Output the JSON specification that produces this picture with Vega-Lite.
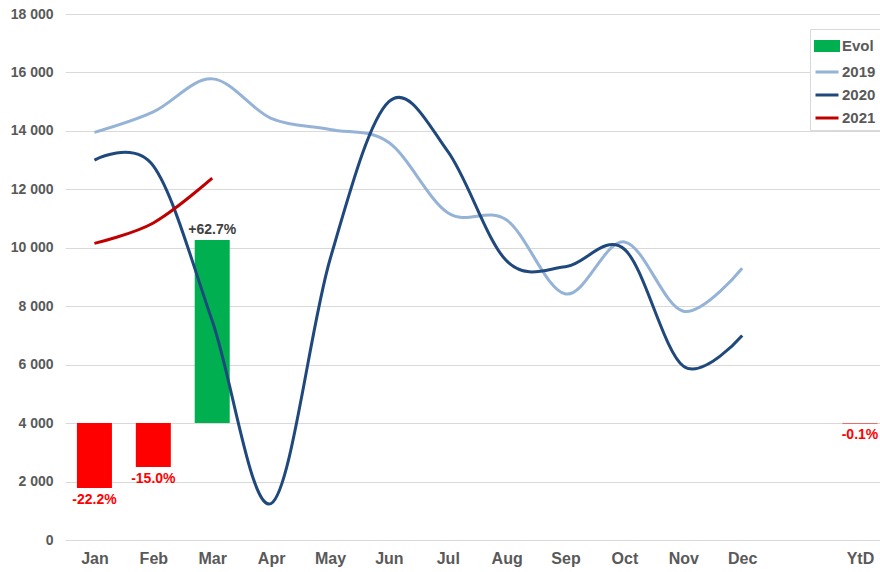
{
  "$schema": "https://vega.github.io/schema/vega-lite/v6.json",
  "width": 815,
  "height": 526,
  "autosize": {"type": "none"},
  "padding": {"left": 65, "top": 14, "right": 0, "bottom": 32},
  "background": "white",
  "config": {"view": {"stroke": null}, "font": "Liberation Sans"},
  "datasets": {
    "lines": [
      {"m": 1, "month": "Jan", "series": "2019", "value": 13950},
      {"m": 2, "month": "Feb", "series": "2019", "value": 14650},
      {"m": 3, "month": "Mar", "series": "2019", "value": 15780},
      {"m": 4, "month": "Apr", "series": "2019", "value": 14430},
      {"m": 5, "month": "May", "series": "2019", "value": 14050},
      {"m": 6, "month": "Jun", "series": "2019", "value": 13600},
      {"m": 7, "month": "Jul", "series": "2019", "value": 11200},
      {"m": 8, "month": "Aug", "series": "2019", "value": 10950},
      {"m": 9, "month": "Sep", "series": "2019", "value": 8420},
      {"m": 10, "month": "Oct", "series": "2019", "value": 10200},
      {"m": 11, "month": "Nov", "series": "2019", "value": 7830},
      {"m": 12, "month": "Dec", "series": "2019", "value": 9300},
      {"m": 1, "month": "Jan", "series": "2020", "value": 13000},
      {"m": 2, "month": "Feb", "series": "2020", "value": 12800},
      {"m": 3, "month": "Mar", "series": "2020", "value": 7500},
      {"m": 4, "month": "Apr", "series": "2020", "value": 1250},
      {"m": 5, "month": "May", "series": "2020", "value": 9600},
      {"m": 6, "month": "Jun", "series": "2020", "value": 15000},
      {"m": 7, "month": "Jul", "series": "2020", "value": 13300},
      {"m": 8, "month": "Aug", "series": "2020", "value": 9550},
      {"m": 9, "month": "Sep", "series": "2020", "value": 9350},
      {"m": 10, "month": "Oct", "series": "2020", "value": 9950},
      {"m": 11, "month": "Nov", "series": "2020", "value": 5950},
      {"m": 12, "month": "Dec", "series": "2020", "value": 7000},
      {"m": 1, "month": "Jan", "series": "2021", "value": 10150},
      {"m": 2, "month": "Feb", "series": "2021", "value": 10850},
      {"m": 3, "month": "Mar", "series": "2021", "value": 12380}
    ],
    "evol": [
      {"m": 1, "month": "Jan", "series": "Evol", "pct": -0.222, "end": 1780, "label": "-22.2%"},
      {"m": 2, "month": "Feb", "series": "Evol", "pct": -0.15, "end": 2500, "label": "-15.0%"},
      {"m": 3, "month": "Mar", "series": "Evol", "pct": 0.627, "end": 10270, "label": "+62.7%"},
      {"m": 14, "month": "YtD", "series": "Evol", "pct": -0.001, "end": 3990, "label": "-0.1%"}
    ]
  },
  "encoding": {
    "x": {
      "field": "m",
      "type": "quantitative",
      "scale": {"domain": [0.5, 14.34], "nice": false, "zero": false, "padding": 0},
      "axis": {
        "title": null,
        "values": [1, 2, 3, 4, 5, 6, 7, 8, 9, 10, 11, 12, 14],
        "labelExpr": "['','Jan','Feb','Mar','Apr','May','Jun','Jul','Aug','Sep','Oct','Nov','Dec','','YtD'][datum.value]",
        "grid": false,
        "domain": false,
        "ticks": false,
        "labelFont": "Liberation Sans",
        "labelFontSize": 16,
        "labelFontWeight": "bold",
        "labelColor": "#595959",
        "labelPadding": 10,
        "labelFlush": false,
        "labelOverlap": false
      }
    }
  },
  "layer": [
    {
      "data": {"name": "evol"},
      "mark": {"type": "bar", "width": 35},
      "encoding": {
        "y": {
          "field": "end",
          "type": "quantitative",
          "scale": {"domain": [0, 18000], "nice": false, "zero": true},
          "axis": {
            "title": null,
            "values": [0, 2000, 4000, 6000, 8000, 10000, 12000, 14000, 16000, 18000],
            "labelExpr": "replace(format(datum.value, ','), ',', ' ')",
            "grid": true,
            "gridColor": "#D9D9D9",
            "gridWidth": 1,
            "domain": false,
            "ticks": false,
            "labelFont": "Liberation Sans",
            "labelFontSize": 14,
            "labelFontWeight": "bold",
            "labelColor": "#595959",
            "labelPadding": 12
          }
        },
        "y2": {"datum": 4000},
        "color": {
          "condition": {"test": "datum.pct < 0", "value": "#FF0000"},
          "field": "series",
          "type": "nominal",
          "scale": {"domain": ["Evol", "2019", "2020", "2021"], "range": ["#00B050", "#95B3D7", "#1F497D", "#C00000"]},
          "legend": {
            "title": null,
            "orient": "none",
            "legendX": 745,
            "legendY": 15,
            "padding": 4,
            "rowPadding": 2,
            "symbolSize": 529,
            "symbolStrokeWidth": 3,
            "labelOffset": 2,
            "labelFont": "Liberation Sans",
            "labelFontSize": 15,
            "labelFontWeight": "bold",
            "labelColor": "#595959",
            "labelLimit": 200,
            "strokeColor": "#D9D9D9",
            "fillColor": "white",
            "encode": {
              "symbols": {
                "update": {
                  "shape": {"signal": "datum.value === 'Evol' ? 'M-1,-0.4H1V0.4H-1Z' : 'M-1,0H1'"},
                  "fill": {"signal": "datum.value === 'Evol' ? '#00B050' : 'transparent'"},
                  "stroke": {"signal": "datum.value === 'Evol' ? 'transparent' : scale('color', datum.value)"},
                  "strokeWidth": {"value": 3},
                  "opacity": {"value": 1}
                }
              }
            }
          }
        }
      }
    },
    {
      "data": {"name": "lines"},
      "mark": {"type": "line", "interpolate": "cardinal", "strokeWidth": 3},
      "encoding": {
        "y": {"field": "value", "type": "quantitative"},
        "color": {"field": "series", "type": "nominal"}
      }
    },
    {
      "data": {"name": "evol"},
      "transform": [{"filter": "datum.pct < 0"}],
      "mark": {"type": "text", "baseline": "top", "dy": 5, "color": "#FF0000", "fontSize": 14, "fontWeight": "bold", "font": "Liberation Sans"},
      "encoding": {
        "y": {"field": "end", "type": "quantitative"},
        "text": {"field": "label"}
      }
    },
    {
      "data": {"name": "evol"},
      "transform": [{"filter": "datum.pct >= 0"}],
      "mark": {"type": "text", "baseline": "bottom", "dy": -3, "color": "#404040", "fontSize": 14, "fontWeight": "bold", "font": "Liberation Sans"},
      "encoding": {
        "y": {"field": "end", "type": "quantitative"},
        "text": {"field": "label"}
      }
    }
  ]
}
